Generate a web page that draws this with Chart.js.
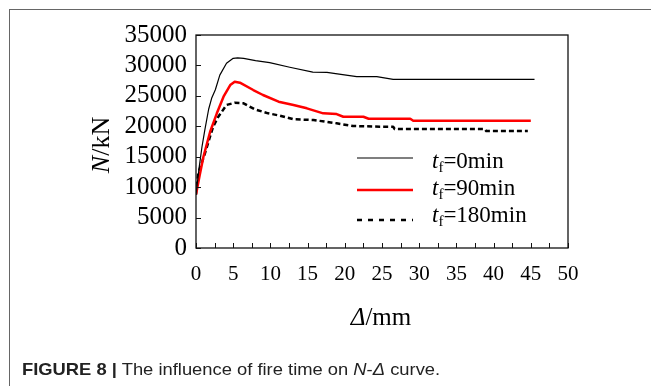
<!DOCTYPE html>
<html lang="en">
<head>
<meta charset="UTF-8">
<title>The influence of fire time on N-Δ curve</title>
<style>
  body { margin: 0; background: #fff; }
  .wrap { position: relative; width: 651px; height: 386px; overflow: hidden; }
  .frame { position: absolute; left: 9px; top: 9px; width: 700px; height: 500px; border-top: 1px solid #666; border-left: 1px solid #666; }
  #chart { position: absolute; left: 0; top: 0; }
  .caption { position: absolute; left: 22px; top: 360px; font-family: "Liberation Sans", Arial, sans-serif; font-size: 17px; color: #222; white-space: nowrap; transform: scaleX(1.08); transform-origin: left top; }
</style>
</head>
<body>
<div class="wrap">
  <div class="frame"></div>
  <canvas id="chart" width="651" height="386"></canvas>
  <div class="caption"><b>FIGURE 8 |</b> The influence of fire time on <i>N</i>-<i>Δ</i> curve.</div>
</div>
<script src="https://cdn.jsdelivr.net/npm/chart.js"></script>
<script>
// fire time of each curve, min
const fireTimes = ['0', '90', '180'];

// tf = 0 min
const t0X = [0, 0.4, 0.8, 1.2, 1.7, 2.1, 2.6, 3.2, 4.1, 5.0, 5.6, 6.4, 8.0, 9.9, 12.6, 15.7, 17.6, 19.0, 21.6, 24.3, 26.5, 45.5];
const t0Y = [8700, 13000, 16600, 19500, 22800, 24600, 26000, 28400, 30350, 31170, 31250, 31170, 30800, 30450, 29700, 28900, 28870, 28600, 28150, 28150, 27720, 27720];

// tf = 90 min
const t90X = [0, 0.5, 1.0, 1.9, 2.8, 3.7, 4.6, 5.2, 5.9, 7.7, 9.0, 11.1, 13.1, 14.9, 17.1, 18.9, 19.8, 22.5, 23.2, 28.8, 29.2, 45.0];
const t90Y = [8800, 12000, 15000, 19100, 22130, 24860, 26780, 27330, 27160, 25960, 25140, 24040, 23500, 22950, 22130, 22000, 21570, 21570, 21240, 21240, 20920, 20920];

// tf = 180 min
const t180X = [0, 0.3, 1.2, 2.3, 3.0, 4.1, 5.2, 6.4, 7.9, 9.7, 11.3, 13.1, 15.8, 18.9, 21.1, 24.7, 26.5, 26.7, 38.8, 39.0, 44.6];
const t180Y = [8800, 12270, 15560, 19930, 21570, 23500, 23870, 23770, 22790, 22130, 21740, 21150, 21030, 20490, 20050, 19930, 19930, 19550, 19550, 19220, 19220];

const xMin = 0, xMax = 50, xStep = 2.5, xLabelStep = 5;
const yMin = 0, yMax = 35000, yStep = 5000;

function pts(xs, ys) {
  return xs.map((x, i) => ({ x: x, y: ys[i] }));
}

const SERIF = '"Liberation Serif", "Times New Roman", serif';

// box, inward ticks, legend and axis titles
const decorations = {
  id: 'decorations',
  afterDraw(chart) {
    const ctx = chart.ctx;
    const a = chart.chartArea;
    const xs = chart.scales.x, ys = chart.scales.y;
    ctx.save();
    ctx.strokeStyle = '#111';
    ctx.lineWidth = 1.3;
    ctx.strokeRect(a.left, a.top, a.right - a.left, a.bottom - a.top);

    ctx.lineWidth = 1;
    ctx.beginPath();
    xs.ticks.forEach(t => {
      const px = Math.round(xs.getPixelForValue(t.value)) + 0.5;
      ctx.moveTo(px, a.bottom);
      ctx.lineTo(px, a.bottom - 5);
    });
    ys.ticks.forEach(t => {
      const py = Math.round(ys.getPixelForValue(t.value)) + 0.5;
      ctx.moveTo(a.left, py);
      ctx.lineTo(a.left + 5, py);
    });
    ctx.stroke();

    // legend
    const rows = [
      { line: 158, base: 168 },
      { line: 190, base: 195 },
      { line: 220, base: 222 }
    ];
    chart.data.datasets.forEach((ds, i) => {
      const r = rows[i];
      ctx.beginPath();
      ctx.strokeStyle = ds.borderColor;
      ctx.lineWidth = ds.borderWidth;
      ctx.setLineDash(ds.borderDash.length ? [5, 6] : []);
      ctx.moveTo(357, r.line);
      ctx.lineTo(413, r.line);
      ctx.stroke();
      ctx.setLineDash([]);

      ctx.fillStyle = '#000';
      ctx.textBaseline = 'alphabetic';
      ctx.textAlign = 'left';
      let x = 432;
      ctx.font = 'italic 23px ' + SERIF;
      ctx.fillText('t', x, r.base);
      x += ctx.measureText('t').width;
      ctx.font = '15px ' + SERIF;
      ctx.fillText('f', x, r.base + 4);
      x += ctx.measureText('f').width;
      ctx.font = '23px ' + SERIF;
      ctx.fillText('=' + fireTimes[i] + 'min', x, r.base);
    });

    // x title
    ctx.textBaseline = 'middle';
    ctx.font = 'italic 25px ' + SERIF;
    const dW = ctx.measureText('Δ').width;
    ctx.font = '25px ' + SERIF;
    const mW = ctx.measureText('/mm').width;
    let tx = 381 - (dW + mW) / 2;
    ctx.font = 'italic 25px ' + SERIF;
    ctx.fillText('Δ', tx, 318);
    ctx.font = '25px ' + SERIF;
    ctx.fillText('/mm', tx + dW, 318);

    // y title
    ctx.translate(102, 145);
    ctx.rotate(-Math.PI / 2);
    ctx.font = 'italic 26px ' + SERIF;
    const nW = ctx.measureText('N').width;
    ctx.font = '26px ' + SERIF;
    const kW = ctx.measureText('/kN').width;
    tx = -(nW + kW) / 2;
    ctx.font = 'italic 26px ' + SERIF;
    ctx.fillText('N', tx, 0);
    ctx.font = '26px ' + SERIF;
    ctx.fillText('/kN', tx + nW, 0);
    ctx.restore();
  }
};

new Chart(document.getElementById('chart'), {
  type: 'scatter',
  data: {
    datasets: [
      { label: 'tf=0min', data: pts(t0X, t0Y), borderColor: '#000', borderWidth: 1.2, borderDash: [] },
      { label: 'tf=90min', data: pts(t90X, t90Y), borderColor: '#ff0000', borderWidth: 2.5, borderDash: [] },
      { label: 'tf=180min', data: pts(t180X, t180Y), borderColor: '#000', borderWidth: 2.5, borderDash: [5, 3] }
    ].map(d => Object.assign(d, { showLine: true, pointRadius: 0, tension: 0, fill: false, borderJoinStyle: 'round' }))
  },
  options: {
    responsive: false,
    animation: false,
    events: [],
    layout: { padding: { top: 35, right: 83, left: 0, bottom: 0 } },
    plugins: { legend: { display: false }, tooltip: { enabled: false } },
    scales: {
      x: {
        type: 'linear', min: xMin, max: xMax,
        afterFit: s => { s.height = 138; },
        border: { display: false },
        grid: { display: false, drawTicks: false },
        ticks: {
          stepSize: xStep, autoSkip: false, maxRotation: 0, padding: 14,
          color: '#000', font: { family: SERIF, size: 21 },
          callback: v => (v % xLabelStep === 0 ? v : '')
        }
      },
      y: {
        min: yMin, max: yMax,
        afterFit: s => { s.width = 196; },
        border: { display: false },
        grid: { display: false, drawTicks: false },
        ticks: {
          stepSize: yStep, padding: 9, autoSkip: false,
          color: '#000', font: { family: SERIF, size: 25 },
          callback: v => v
        }
      }
    }
  },
  plugins: [decorations]
});
</script>
</body>
</html>
